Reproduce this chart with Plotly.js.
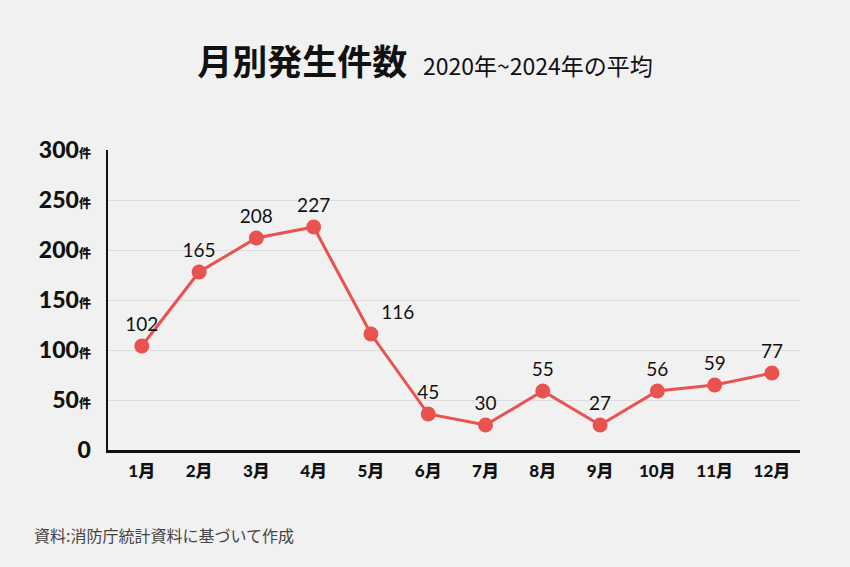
<!DOCTYPE html>
<html>
<head>
<meta charset="utf-8">
<script src="https://cdn.plot.ly/plotly-3.0.1.min.js"></script>
<style>html,body{margin:0;padding:0;background:#f1f1f1;}#chart{width:850px;height:567px;}</style>
</head>
<body>
<div id="chart"></div>
<script>
const months = ["1月","2月","3月","4月","5月","6月","7月","8月","9月","10月","11月","12月"];
const plotted = [104, 178, 212, 223, 116, 36, 25, 59, 25, 59, 65, 77];
const labels = ["102","165","208","227","116","45","30","55","27","56","59","77"];
const yTicks = [0, 50, 100, 150, 200, 250, 300];
const yTickText = ["0","50","100","150","200","250","300"];
const unit = "件";
const titleMain = "月別発生件数";
const titleSub = "2020年~2024年の平均";
const source = "資料:消防庁統計資料に基づいて作成";

const red = "#e8524f";
const fam = "Lato, 'Noto Sans CJK JP', sans-serif";

const positions = labels.map((_, i) => i === 4 ? "top right" : "top center");

const trace = {
  x: months,
  y: plotted,
  type: "scatter",
  mode: "lines+markers+text",
  line: {color: red, width: 3},
  marker: {color: red, size: 15},
  text: labels,
  textposition: positions,
  textfont: {family: fam, size: 19, color: "#111"},
  cliponaxis: false,
  hoverinfo: "skip"
};

const layout = {
  width: 850, height: 567,
  paper_bgcolor: "#f1f1f1",
  plot_bgcolor: "#f1f1f1",
  margin: {l: 108, r: 50, t: 150, b: 117},
  showlegend: false,
  title: {
    text: "<b>" + titleMain + "</b>  <span style='font-size:23px'>" + titleSub + "</span>",
    x: 0.5, xanchor: "center", y: 0.89, yanchor: "middle",
    font: {family: "'Noto Sans CJK JP', sans-serif", size: 35, color: "#111"}
  },
  xaxis: {
    type: "category",
    range: [-0.59, 11.49],
    showgrid: false,
    showline: true, linecolor: "#111", linewidth: 2.5,
    ticks: "",
    ticklabelstandoff: 4,
    tickfont: {family: fam, size: 17, color: "#111", weight: 900},
    fixedrange: true
  },
  yaxis: {
    range: [0, 300],
    tickvals: yTicks,
    ticktext: yTickText.map(t => t === "0" ? t : t + "<span style='font-size:12px'>" + unit + "</span>"),
    showgrid: true, gridcolor: "#dcdcdc", gridwidth: 1,
    zeroline: false,
    showline: true, linecolor: "#111", linewidth: 2.5,
    ticks: "",
    ticklabelstandoff: 10,
    tickfont: {family: fam, size: 23, color: "#111", weight: 900},
    fixedrange: true
  },
  annotations: [{
    text: source,
    xref: "paper", yref: "paper",
    x: -108/692, y: -85/300,
    xanchor: "left", yanchor: "middle",
    xshift: 32,
    showarrow: false,
    font: {family: "'Noto Sans CJK JP', sans-serif", size: 16, color: "#444"}
  }]
};

Plotly.newPlot("chart", [trace], layout, {displayModeBar: false, staticPlot: true});
</script>
</body>
</html>
